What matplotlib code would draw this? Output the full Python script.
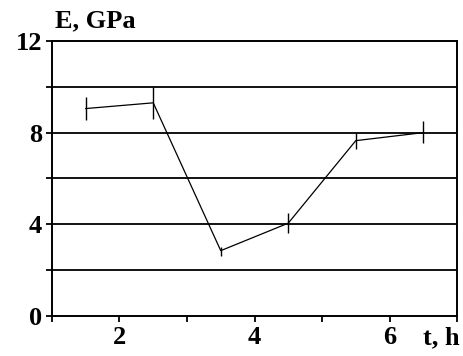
import matplotlib
matplotlib.use("Agg")
import matplotlib.pyplot as plt
from matplotlib.ticker import MultipleLocator

# E(t) readings with vertical scatter bars
t_h = [1.5, 2.5, 3.5, 4.5, 5.5, 6.5]
e_gpa = [9.05, 9.3, 2.85, 4.05, 7.65, 8.0]
err_lo = [0.5, 0.7, 0.25, 0.45, 0.35, 0.45]
err_hi = [0.5, 0.7, 0.15, 0.45, 0.35, 0.5]

x_ticks = [2, 4, 6]
y_ticks = [0, 4, 8, 12]
grid_y = [2, 4, 6, 8, 10]

plt.rcParams["font.family"] = ["Liberation Serif", "DejaVu Serif"]
plt.rcParams["font.weight"] = "bold"

fig = plt.figure(figsize=(4.64, 3.56), dpi=100)
ax = fig.add_axes([0.112, 0.1124, 0.873, 0.7726])
ax.set_xlim(1, 7)
ax.set_ylim(0, 12)

for g in grid_y:
    ax.axhline(g, color="black", lw=1.3, zorder=1)

ax.errorbar(t_h, e_gpa, yerr=[err_lo, err_hi], color="black", lw=0.9,
            elinewidth=1.0, capsize=0, zorder=3)

for sp in ax.spines.values():
    sp.set_linewidth(1.4)
    sp.set_color("black")

ax.set_xticks(x_ticks)
ax.xaxis.set_minor_locator(MultipleLocator(1))
ax.set_yticks(y_ticks)
ax.yaxis.set_minor_locator(MultipleLocator(2))
ax.tick_params(which="both", direction="out", length=4, width=1.3, colors="black",
               labelsize=19, pad=3)
for lab in ax.get_xticklabels() + ax.get_yticklabels():
    lab.set_fontweight("bold")

fig.text(0.118, 0.941, "E, GPa", fontsize=19, fontweight="bold", ha="left", va="center")
fig.text(0.99, 0.052, "t, h", fontsize=19, fontweight="bold", ha="right", va="center")

fig.savefig("out.png", facecolor="white")
